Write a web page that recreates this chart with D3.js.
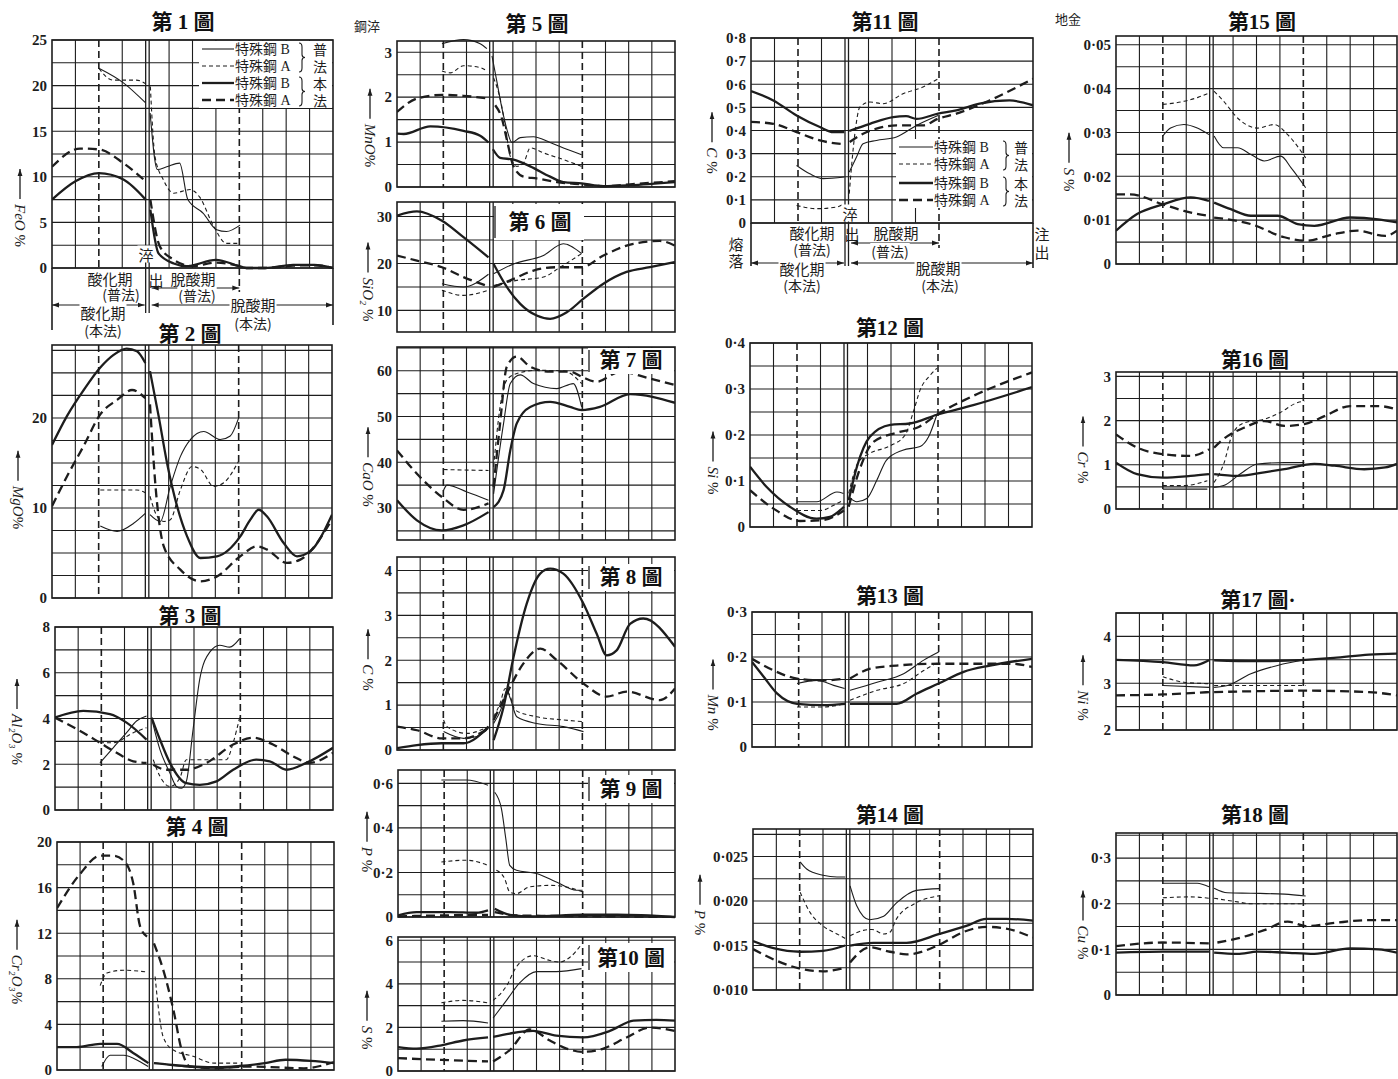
<!DOCTYPE html>
<html>
<head>
<meta charset="utf-8">
<script src="https://cdn.jsdelivr.net/npm/d3@7"></script>
<style>
  body { margin: 0; background: #fff; }
  svg { display: block; }
</style>
</head>
<body>
<svg id="chart" width="1398" height="1079"></svg>
<script>
// ---- data: x is the time axis in grid columns (0..12), y in percent ----
// each series is a list of segments (before / after tapping)
// thin = 普法 B, thinD = 普法 A, thick = 本法 B, thickD = 本法 A

const F1_THIN   = [[[2,21.9],[3.05,20.3],[4.0,18.1]], [[4.19,17],[4.5,10.8],[4.9,11.1],[5.45,11.5],[5.8,7.5],[6.46,6],[7.03,4.2],[7.45,4.0],[8.03,4.7]]];
const F1_THIN_D = [[[2,21.9],[2.6,20.6],[3.6,20.6],[4.0,20.2]], [[4.2,19.9],[4.4,12.2],[4.75,9.7],[5.2,8.2],[5.9,8.6],[6.3,7.8],[6.9,4.6],[7.45,2.7],[8.03,2.7]]];
const F1_THICK  = [[[0,7.5],[1,9.5],[2,10.4],[3.05,9.7],[4.0,7.5]], [[4.2,6.4],[4.55,1.6],[5.2,0.5],[5.75,0.2],[7,0.9],[8,0.2],[8.3,0],[9.1,0],[10.3,0.35],[11.2,0.35],[12,0]]];
const F1_THICK_D= [[[0,11.1],[1.2,13.1],[2,13.0],[3.05,11.5],[4.0,9.5]], [[4.2,7.5],[4.6,2.4],[5.2,0.9],[6,0.2],[7,0.6],[8,0.2],[8.3,0],[9.1,0],[10.3,0.25],[11.2,0.3],[12,0]]];

const F2_THIN   = [[[2.07,8.0],[2.79,7.4],[3.5,8.3],[4.0,9.4]], [[4.2,9.26],[4.64,8.5],[5.07,12.4],[5.5,15.7],[5.93,17.6],[6.5,18.5],[7.21,17.6],[7.64,18.0],[8.0,20.0]]];
const F2_THIN_D = [[[2.07,12.0],[3.64,12.0],[4.0,11.7]], [[4.2,11.3],[4.5,9.1],[4.79,8.5],[5.07,8.7],[5.5,12.0],[6.0,14.6],[6.36,14.3],[6.93,12.4],[7.36,12.8],[8.0,15.2]]];
const F2_THICK  = [[[0,17.0],[0.64,20.2],[1.36,23.1],[2.07,25.6],[2.64,27.0],[3.2,27.7],[3.64,27.4],[4.0,26.1]], [[4.2,25.2],[4.57,20.2],[4.93,15.0],[5.36,10.2],[5.79,6.85],[6.36,4.44],[7.07,4.63],[8.07,6.85],[8.5,8.7],[8.86,9.8],[9.2,9.1],[9.93,6.1],[10.5,4.63],[11.07,5.2],[12,9.26]]];
const F2_THICK_D= [[[0,10.2],[0.64,13.5],[1.36,16.9],[2.07,20.4],[2.79,22.0],[3.43,23.1],[4.0,22.2]], [[4.2,21.5],[4.45,12],[4.79,5.74],[5.5,3.15],[6.36,1.85],[7.07,2.4],[8.07,4.63],[8.79,5.74],[9.2,5.4],[10.07,3.9],[10.64,4.26],[12,8.7]]];

const F3_THIN   = [[[1.94,2.06],[2.51,2.72],[3.09,3.38],[3.52,3.89],[3.95,4.11]], [[4.2,3.89],[4.53,2.64],[4.96,1.62],[5.24,1.03],[5.46,0.95],[5.67,1.25],[5.96,3.52],[6.25,5.73],[6.68,6.9],[7.11,7.2],[7.54,7.12],[7.97,7.49]]];
const F3_THIN_D = [[[1.94,2.94],[2.51,2.94],[3.38,3.38],[3.95,3.6]], [[4.24,2.2],[4.53,1.47],[4.96,1.03],[5.39,1.4],[5.67,2.2],[6.54,2.2],[7.4,2.2],[7.69,2.94],[7.97,4.04]]];
const F3_THICK  = [[[0,4.04],[1.22,4.33],[2.37,4.19],[3.09,3.82],[3.95,3.08]], [[4.17,4.04],[4.53,3.08],[4.96,2.06],[5.67,1.17],[6.25,1.1],[6.97,1.25],[7.69,1.76],[8.69,2.2],[9.27,2.13],[9.99,1.76],[10.85,2.06],[12,2.72]]];
const F3_THICK_D= [[[0,4.04],[1.22,3.38],[1.94,2.94],[2.66,2.5],[3.38,2.13],[3.95,2.06]], [[4.24,1.98],[4.81,1.76],[5.67,1.76],[6.54,2.06],[7.69,2.86],[8.55,3.16],[9.41,2.86],[10.27,2.35],[10.99,2.06],[12,2.5]]];

const F4_THIN   = [[[1.94,0.3],[2.3,1.3],[2.88,1.3],[3.6,0.73],[3.95,0.3]], [[4.2,0.64],[5.5,0.3],[6.8,0.15],[7.9,0.23]]];
const F4_THIN_D = [[[1.87,7.4],[2.16,8.5],[2.88,8.75],[3.9,8.6]], [[4.25,8.2],[4.4,5.3],[4.6,2.9],[5.04,1.75],[5.9,1.2],[6.8,0.6],[7.9,0.6]]];
const F4_THICK  = [[[0,2.0],[0.86,2.0],[1.87,2.3],[2.6,2.3],[3.3,1.5],[3.96,0.6]], [[4.2,0.6],[5.0,0.44],[6.0,0.3],[7.0,0.25],[7.9,0.35],[9.0,0.6],[9.9,0.9],[11.0,0.8],[12,0.6]]];
const F4_THICK_D= [[[0,14.2],[1,17.2],[1.87,18.8],[2.45,18.8],[3.0,18.1],[3.3,16.4],[3.6,12.6],[3.9,11.7]], [[4.2,11.1],[4.6,8.8],[5.04,5.3],[5.4,1.75],[5.76,0.3],[6.9,0.15],[7.9,0.3],[8.5,0.3],[10.7,0.15],[12,0.7]]];

const F5_THIN   = [[[1.94,3.19],[2.87,3.28],[3.59,3.19],[3.88,3.08]], [[4.1,2.92],[4.31,2.35],[4.53,1.75],[4.74,1.29],[4.96,0.99],[5.32,1.1],[5.89,1.12],[6.61,0.99],[7.33,0.84],[7.97,0.72]]];
const F5_THIN_D = [[[1.94,2.58],[2.3,2.54],[2.87,2.7],[3.59,2.66],[3.88,2.58]], [[4.17,2.43],[4.45,1.97],[4.67,1.37],[4.89,0.68],[5.17,0.46],[5.46,0.53],[5.75,0.87],[6.32,0.76],[7.18,0.61],[7.97,0.46]]];
const F5_THICK  = [[[0,1.19],[0.29,1.18],[1.44,1.35],[2.87,1.25],[3.59,1.14],[3.95,0.99]], [[4.14,0.84],[4.45,0.65],[5.03,0.61],[5.75,0.46],[6.61,0.23],[7.18,0.11],[7.97,0.08],[8.91,0.02],[10.06,0.04],[12,0.11]]];
const F5_THICK_D= [[[0,1.67],[0.86,1.97],[1.94,2.05],[2.87,2.03],[3.95,1.97]], [[4.24,1.82],[4.53,1.52],[4.74,1.06],[5.03,0.46],[5.46,0.23],[6.03,0.19],[6.9,0.11],[7.97,0.06],[8.91,0.02],[10.06,0.06],[12,0.13]]];

const F6_THIN   = [[[1.94,15.7],[2.87,15.0],[3.95,17.7]], [[4.17,17.8],[5.03,19.9],[6.32,21.7],[7.18,24.2],[7.97,22.1]]];
const F6_THIN_D = [[[1.94,14.3],[2.87,13.2],[3.95,14.3]], [[4.17,15.3],[5.17,16.4],[6.32,17.1],[7.04,19.2],[7.97,22.1]]];
const F6_THICK  = [[[0,30.2],[0.86,31.1],[1.94,29.1],[2.87,25.6],[3.95,21.3]], [[4.17,19.9],[4.74,15.0],[5.32,11.4],[6.03,8.9],[6.61,8.2],[7.33,9.6],[8.05,12.5],[8.91,15.7],[9.91,18.2],[10.92,19.2],[12,20.3]]];
const F6_THICK_D= [[[0,21.7],[0.86,20.6],[1.94,19.2],[2.87,17.1],[3.95,15.1]], [[4.17,15.0],[4.89,16.4],[5.89,18.5],[6.9,19.2],[7.97,19.2],[8.91,21.7],[10.2,24.2],[11.35,24.8],[12,23.8]]];

const F7_THIN   = [[[2.01,33.9],[2.16,35.0],[3.02,33.5],[3.95,31.7]], [[4.17,33.1],[4.6,48.5],[4.89,57.2],[5.32,59.1],[5.89,57.2],[6.9,56.1],[7.61,57.2],[7.97,52.1]]];
const F7_THIN_D = [[[2.01,38.4],[3.95,38.2]], [[4.17,39.0],[4.45,52.1],[4.74,58.0],[5.17,59.4],[6.03,60.1],[7.18,60.0],[7.97,57.2]]];
const F7_THICK  = [[[0,31.7],[0.86,27.3],[1.94,25.1],[2.87,26.2],[3.95,29.1]], [[4.17,30.2],[4.6,33.9],[4.89,42.6],[5.17,48.5],[5.75,52.1],[6.61,53.2],[7.47,52.1],[7.97,51.4],[8.76,52.1],[10.06,54.9],[12,53.0]]];
const F7_THICK_D= [[[0,42.6],[0.86,37.5],[1.94,32.4],[2.87,29.6],[3.95,31.0]], [[4.17,34.6],[4.45,48.5],[4.74,60.9],[5.17,63.1],[5.75,60.9],[6.61,59.8],[7.47,59.8],[7.97,58.7],[8.62,57.6],[9.63,59.8],[10.92,58.3],[12,56.9]]];

const F8_THIN   = [[[2.01,0.41],[2.87,0.26],[3.45,0.3],[3.95,0.48]], [[4.17,0.59],[4.53,0.96],[4.74,1.33],[4.89,1.15],[5.17,0.74],[6.03,0.59],[7.18,0.52],[8.05,0.41]]];
const F8_THIN_D = [[[2.01,0.67],[2.16,0.52],[3.02,0.37],[3.95,0.52]], [[4.17,0.74],[4.45,1.04],[4.67,1.37],[4.89,1.19],[5.1,0.89],[6.03,0.74],[7.18,0.67],[8.05,0.63]]];
const F8_THICK  = [[[0,0.04],[0.86,0.11],[1.94,0.15],[2.87,0.15],[3.95,0.52]], [[4.17,0.22],[4.6,0.96],[5.03,2.07],[5.6,3.26],[6.18,3.93],[6.61,4.04],[7.18,3.93],[8.05,3.26],[8.62,2.59],[9.05,2.11],[9.48,2.22],[10.06,2.81],[10.63,2.93],[12,2.3]]];
const F8_THICK_D= [[[0,0.52],[0.86,0.44],[1.94,0.26],[2.87,0.26],[3.95,0.48]], [[4.17,0.67],[4.74,1.26],[5.46,1.93],[6.18,2.26],[6.9,2.0],[8.05,1.48],[9.05,1.19],[9.91,1.3],[11.35,1.11],[12,1.37]]];

const F9_THIN   = [[[1.88,0.615],[2.96,0.615],[3.9,0.592]], [[4.19,0.56],[4.48,0.487],[4.67,0.352],[4.84,0.232],[5.13,0.21],[6.0,0.195],[6.86,0.157],[7.73,0.12],[8.0,0.12]]];
const F9_THIN_D = [[[1.88,0.247],[2.96,0.255],[3.9,0.232]], [[4.26,0.21],[4.62,0.172],[4.84,0.112],[5.13,0.105],[5.7,0.135],[6.58,0.142],[7.3,0.135],[8.02,0.112]]];
const F9_THICK  = [[[0,0.007],[0.8,0.022],[2.24,0.022],[3.4,0.019],[3.9,0.03]], [[4.19,0.037],[4.84,0.01],[5.85,0.003],[8.02,0.01],[9.5,0.01],[12,0.0]]];
const F9_THICK_D= [[[0,0.003],[1.9,0.007],[3.9,0.01]], [[4.19,0.022],[5.13,0.007],[8.02,0.004],[12,0.0]]];

const F10_THIN   = [[[1.88,2.28],[2.82,2.31],[3.9,2.2]], [[4.12,2.43],[4.7,3.24],[5.27,4.04],[6.0,4.56],[6.86,4.56],[7.95,4.7]]];
const F10_THIN_D = [[[1.88,3.13],[2.82,3.24],[3.9,3.13]], [[4.12,3.24],[4.7,3.9],[5.13,4.78],[5.85,5.29],[6.58,5.07],[7.0,5.0],[7.45,5.22],[7.95,5.81]]];
const F10_THICK  = [[[0,1.1],[0.8,1.03],[1.88,1.18],[2.82,1.4],[3.9,1.54]], [[4.12,1.57],[4.84,1.72],[5.85,1.84],[6.86,1.62],[8.02,1.54],[9.18,1.84],[10.2,2.31],[11.2,2.35],[12,2.31]]];
const F10_THICK_D= [[[0,0.59],[1.88,0.51],[3.9,0.44]], [[4.12,0.44],[4.84,0.96],[5.7,1.91],[6.58,1.4],[7.3,1.03],[8.02,0.88],[8.9,1.03],[9.9,1.54],[10.9,1.99],[12,1.84]]];

const F11_THIN   = [[[1.94,0.249],[2.5,0.213],[3.07,0.192],[3.97,0.199]], [[4.18,0.22],[4.49,0.285],[4.77,0.343],[5.34,0.357],[6.19,0.372],[7.04,0.422],[7.96,0.465]]];
const F11_THIN_D = [[[1.94,0.076],[2.8,0.062],[3.64,0.069],[3.97,0.084]], [[4.18,0.127],[4.42,0.386],[4.63,0.501],[5.06,0.523],[5.62,0.516],[6.47,0.559],[7.32,0.588],[7.96,0.624]]];
const F11_THICK  = [[[0,0.571],[0.95,0.53],[1.94,0.465],[2.93,0.415],[3.5,0.393],[3.97,0.393]], [[4.18,0.398],[5.06,0.429],[6.05,0.458],[6.6,0.462],[7.04,0.45],[7.96,0.473],[8.74,0.487],[9.73,0.516],[11.0,0.53],[12,0.509]]];
const F11_THICK_D= [[[0,0.437],[0.95,0.429],[1.94,0.393],[2.93,0.357],[3.97,0.34]], [[4.2,0.35],[4.77,0.386],[5.34,0.408],[6.19,0.422],[7.32,0.422],[7.96,0.451],[8.74,0.473],[10.15,0.53],[12,0.624]]];

const F12_THIN   = [[[2,0.055],[2.84,0.055],[3.7,0.076],[3.98,0.073]], [[4.2,0.065],[4.55,0.055],[4.97,0.062],[5.4,0.102],[5.8,0.145],[6.5,0.167],[7.24,0.175],[7.6,0.196],[7.95,0.244]]];
const F12_THIN_D = [[[2,0.036],[3,0.036],[3.7,0.051],[3.98,0.058]], [[4.2,0.073],[4.6,0.14],[5.1,0.16],[5.9,0.175],[6.6,0.2],[6.95,0.25],[7.24,0.298],[7.67,0.33],[7.95,0.345]]];
const F12_THICK  = [[[0,0.131],[0.71,0.087],[1.7,0.044],[2.84,0.018],[3.4,0.022],[4.0,0.044]], [[4.2,0.058],[4.55,0.131],[5.1,0.196],[5.97,0.222],[6.8,0.225],[7.95,0.244],[9.5,0.265],[12,0.304]]];
const F12_THICK_D= [[[0,0.08],[1,0.04],[2.13,0.013],[3.1,0.015],[4.0,0.036]], [[4.2,0.044],[4.7,0.13],[5.25,0.185],[6.25,0.205],[7.2,0.218],[7.95,0.244],[9.5,0.285],[12,0.336]]];

const F13_THIN   = [[[1.93,0.141],[2.8,0.148],[3.5,0.137],[3.97,0.13]], [[4.2,0.126],[5.36,0.144],[6.5,0.163],[7.36,0.193],[8,0.211]]];
const F13_THIN_D = [[[1.93,0.089],[3.07,0.089],[3.97,0.096]], [[4.2,0.104],[5.36,0.126],[6.5,0.141],[7.36,0.17],[8,0.189]]];
const F13_THICK  = [[[0,0.189],[0.5,0.156],[1.07,0.119],[1.93,0.096],[3.07,0.093],[4.0,0.096]], [[4.2,0.096],[6.2,0.096],[7.07,0.119],[8,0.141],[9.07,0.167],[10.2,0.181],[12,0.196]]];
const F13_THICK_D= [[[0,0.196],[0.93,0.17],[1.93,0.152],[3.07,0.148],[4.0,0.152]], [[4.2,0.152],[5.07,0.174],[6.2,0.181],[8,0.185],[10.2,0.185],[11.1,0.185],[12,0.178]]];

const F14_THIN   = [[[2.02,0.0244],[2.3,0.0236],[3.0,0.0229],[3.6,0.0227],[3.95,0.0227]], [[4.16,0.0217],[4.44,0.0195],[5.0,0.0179],[5.6,0.0183],[6.15,0.0198],[7.0,0.0212],[8.0,0.0214]]];
const F14_THIN_D = [[[2.02,0.021],[2.45,0.0187],[3.0,0.0172],[3.6,0.0163],[3.95,0.0158]], [[4.16,0.0161],[4.73,0.0167],[5.1,0.0168],[5.6,0.0163],[5.87,0.0165],[6.15,0.018],[7.0,0.0198],[8.0,0.0206]]];
const F14_THICK  = [[[0,0.0155],[0.88,0.0147],[2.02,0.0143],[3.0,0.0144],[3.95,0.015]], [[4.16,0.015],[5.16,0.0153],[6.58,0.0153],[8,0.0163],[9.14,0.0172],[10,0.018],[10.85,0.018],[12,0.0178]]];
const F14_THICK_D= [[[0,0.0146],[1.0,0.0133],[2.02,0.0124],[3.0,0.0121],[3.95,0.0125]], [[4.16,0.0131],[5.0,0.0148],[5.87,0.0143],[6.58,0.014],[8,0.0151],[9.0,0.0165],[10,0.0171],[10.85,0.0169],[12,0.0159]]];

const F15_THIN   = [[[2,0.0292],[2.33,0.031],[2.9,0.0318],[3.47,0.031],[3.97,0.0295]], [[4.19,0.0292],[4.6,0.0265],[5.19,0.0265],[5.76,0.025],[6.33,0.0235],[7.04,0.0246],[7.47,0.022],[8.1,0.0174]]];
const F15_THIN_D = [[[2,0.0364],[2.9,0.0371],[3.5,0.038],[3.97,0.039]], [[4.19,0.0394],[4.6,0.0371],[5.19,0.0333],[6.04,0.031],[6.76,0.0318],[7.33,0.0295],[8.1,0.0242]]];
const F15_THICK  = [[[0,0.0076],[0.9,0.0114],[2,0.0136],[3.19,0.0152],[3.97,0.0144]], [[4.19,0.014],[4.9,0.0125],[5.76,0.011],[6.9,0.011],[7.76,0.0091],[8.47,0.0087],[10,0.0106],[11.2,0.0102],[12,0.0095]]];
const F15_THICK_D= [[[0,0.0159],[0.6,0.0159],[2,0.0136],[2.9,0.0121],[3.97,0.011]], [[4.19,0.0106],[5.76,0.0091],[7.19,0.0061],[8.1,0.0053],[9.3,0.0068],[10.3,0.0076],[11.5,0.0064],[12,0.0076]]];

const F16_THIN   = [[[2,0.45],[3.9,0.45]], [[4.19,0.49],[4.6,0.53],[5.3,0.79],[6.04,1.02],[7.19,1.05],[8.04,1.05]]];
const F16_THIN_D = [[[2,0.53],[2.9,0.53],[3.9,0.64]], [[4.19,0.6],[4.6,1.02],[4.97,1.69],[5.47,1.95],[6.33,2.03],[7.0,2.18],[7.76,2.41],[8.04,2.44]]];
const F16_THICK  = [[[0,1.05],[0.9,0.79],[2,0.71],[3.19,0.75],[3.97,0.79]], [[4.19,0.79],[5.19,0.75],[6.33,0.83],[7.19,0.9],[8.47,1.02],[9.33,0.98],[10.6,0.9],[11.5,0.94],[12,1.02]]];
const F16_THICK_D= [[[0,1.69],[0.9,1.39],[2,1.24],[3.19,1.2],[3.97,1.35]], [[4.19,1.39],[4.76,1.65],[5.47,1.84],[6.33,1.99],[7.2,1.88],[8.04,1.92],[8.9,2.1],[10,2.33],[11.2,2.33],[12,2.25]]];

const F17_THIN   = [[[2,2.95],[3.97,2.91]], [[4.19,2.91],[4.76,2.95],[5.76,3.2],[6.9,3.38],[8.1,3.5]]];
const F17_THIN_D = [[[2,3.14],[2.9,3.02],[3.97,2.99]], [[4.19,2.95],[6,2.95],[8.1,2.95]]];
const F17_THICK  = [[[0,3.5],[2,3.45],[3.33,3.38],[3.97,3.49]], [[4.19,3.49],[6,3.47],[8.1,3.5],[9.3,3.54],[10.8,3.61],[12,3.63]]];
const F17_THICK_D= [[[0,2.74],[2,2.76],[3.97,2.81]], [[4.19,2.81],[8.1,2.84],[10.8,2.81],[12,2.74]]];

const F18_THIN   = [[[2,0.245],[3.47,0.245],[3.97,0.237]], [[4.19,0.234],[4.76,0.224],[5.76,0.223],[7.2,0.221],[8.1,0.217]]];
const F18_THIN_D = [[[2,0.213],[3.19,0.215],[3.97,0.212]], [[4.19,0.212],[5.19,0.204],[5.76,0.2],[8.1,0.2]]];
const F18_THICK  = [[[0,0.093],[2,0.095],[3.97,0.095]], [[4.19,0.093],[5.19,0.09],[6.04,0.095],[7.19,0.093],[8.47,0.09],[10,0.102],[11.2,0.1],[12,0.093]]];
const F18_THICK_D= [[[0,0.107],[2,0.115],[3.97,0.113]], [[4.33,0.115],[5.19,0.124],[6.33,0.142],[7.33,0.161],[8.1,0.151],[9.33,0.158],[10.76,0.164],[12,0.164]]];

// y domains, grid steps and tick labels of each figure
const Y_DOMAINS = [[0,25],[0,28.1],[0,8],[0,20],[0,3.25],[5.4,33.1],[23,65.2],[0,4.3],[0,0.66],[0,6.15],
                   [0,0.8],[0,0.4],[0,0.3],[0.010,0.0281],[0,0.052],[0,3.1],[2,4.5],[0,0.355]];
const GRID_STEPS = [2.5,2.5,1,2,0.5,5,5,0.5,0.1,1,0.1,0.05,0.05,0.0025,0.005,0.5,0.5,0.05];
const TICKS = [
  [0,5,10,15,20,25], [0,10,20], [0,2,4,6,8], [0,4,8,12,16,20],
  [0,1,2,3], [10,20,30], [30,40,50,60], [0,1,2,3,4], [0,0.2,0.4,0.6], [0,2,4,6],
  [0,0.1,0.2,0.3,0.4,0.5,0.6,0.7,0.8], [0,0.1,0.2,0.3,0.4], [0,0.1,0.2,0.3], [0.010,0.015,0.020,0.025],
  [0,0.01,0.02,0.03,0.04,0.05], [0,1,2,3], [2,3,4], [0,0.1,0.2,0.3]
];
const TICK_DECIMALS = [0,0,0,0,0,0,0,0,1,0,1,1,1,3,2,0,0,1];
const TITLES = ['第 1 圖','第 2 圖','第 3 圖','第 4 圖','第 5 圖','第 6 圖','第 7 圖','第 8 圖','第 9 圖','第10 圖',
                '第11 圖','第12 圖','第13 圖','第14 圖','第15 圖','第16 圖','第17 圖·','第18 圖'];
const Y_LABELS = [['FeO',' %'],['MgO','%'],['Al₂O₃',' %'],['Cr₂O₃','%'],['MnO','%'],['SiO₂',' %'],['CaO',' %'],['C',' %'],['P',' %'],['S',' %'],
                  ['C',' %'],['Si',' %'],['Mn',' %'],['P',' %'],['S',' %'],['Cr',' %'],['Ni',' %'],['Cu',' %']];
const LEGEND_LABELS = ['特殊鋼 B','特殊鋼 A','特殊鋼 B','特殊鋼 A'];
const LEGEND_SIDE = ['普','法','本','法'];

const SERIES = [
  [F1_THIN,F1_THIN_D,F1_THICK,F1_THICK_D],[F2_THIN,F2_THIN_D,F2_THICK,F2_THICK_D],
  [F3_THIN,F3_THIN_D,F3_THICK,F3_THICK_D],[F4_THIN,F4_THIN_D,F4_THICK,F4_THICK_D],
  [F5_THIN,F5_THIN_D,F5_THICK,F5_THICK_D],[F6_THIN,F6_THIN_D,F6_THICK,F6_THICK_D],
  [F7_THIN,F7_THIN_D,F7_THICK,F7_THICK_D],[F8_THIN,F8_THIN_D,F8_THICK,F8_THICK_D],
  [F9_THIN,F9_THIN_D,F9_THICK,F9_THICK_D],[F10_THIN,F10_THIN_D,F10_THICK,F10_THICK_D],
  [F11_THIN,F11_THIN_D,F11_THICK,F11_THICK_D],[F12_THIN,F12_THIN_D,F12_THICK,F12_THICK_D],
  [F13_THIN,F13_THIN_D,F13_THICK,F13_THICK_D],[F14_THIN,F14_THIN_D,F14_THICK,F14_THICK_D],
  [F15_THIN,F15_THIN_D,F15_THICK,F15_THICK_D],[F16_THIN,F16_THIN_D,F16_THICK,F16_THICK_D],
  [F17_THIN,F17_THIN_D,F17_THICK,F17_THICK_D],[F18_THIN,F18_THIN_D,F18_THICK,F18_THICK_D]
];

// ---- layout ----
// plot boxes [left, right, top, bottom]
const BOX = [
  [52,333,40,268],[52,332,345,598],[55,333,627,810],[57,334,842,1070],
  [397,675,41,187],[397,675,202,332],[397,675,347,540],[397,675,557,750],[398,675,770,917],[398,675,937,1071],
  [751,1033,38,223],[750,1032,343,527],[752,1032,612,747],[753,1033,829,990],
  [1116,1397,36,264],[1116,1397,372,509],[1116,1397,613,730],[1116,1397,833,995]
];
const TITLE_POS = [[183,22],[190,334],[190,616],[197,827],[537,24],[540,222],[631,360],[631,577],[631,789],[631,958],
                   [885,22],[890,328],[890,596],[890,815],[1262,22],[1255,360],[1258,600],[1255,815]];
const INSET = {5:[494,584,204,240], 6:[588,674,348,374], 7:[588,674,564,591], 8:[588,674,775,803], 9:[588,674,943,972]};
const LABEL_POS = [[20,208],[18,490],[17,722],[17,962],[370,128],[368,282],[368,467],[368,660],[367,842],[367,1020],
                   [712,143],[713,463],[713,695],[700,905],[1069,162],[1083,450],[1083,688],[1083,925]];

const INK = '#1d1d1d';
const SERIF = '"Liberation Serif","DejaVu Serif",serif';
const TITLE_FONT = '"Liberation Serif","Noto Sans CJK JP",serif';
const CJK = '"Noto Sans CJK JP",sans-serif';
const STYLES = [
  {w: 1.1, dash: null}, {w: 1.1, dash: '4,3'}, {w: 2.3, dash: null}, {w: 2.3, dash: '9,5'}
];

const svg = d3.select('#chart');
const defs = svg.append('defs');
defs.append('marker').attr('id', 'arr')
  .attr('viewBox', '0 0 10 10').attr('refX', 10).attr('refY', 5)
  .attr('markerWidth', 7).attr('markerHeight', 7).attr('orient', 'auto-start-reverse')
  .attr('markerUnits', 'userSpaceOnUse')
  .append('path').attr('d', 'M0,1.5L10,5L0,8.5z').attr('fill', INK);

function fmt(v, dec) {
  if (v === 0) return '0';
  return dec ? v.toFixed(dec).replace('.', '·') : String(v);
}

const scales = [];

BOX.forEach((b, i) => {
  const [x0, x1, y0, y1] = b;
  const x = d3.scaleLinear().domain([0, 12]).range([x0, x1]);
  const y = d3.scaleLinear().domain(Y_DOMAINS[i]).range([y1, y0]);
  scales.push({x, y});
  const g = svg.append('g');

  defs.append('clipPath').attr('id', 'clip' + i)
    .append('rect').attr('x', x0).attr('y', y0 - 2).attr('width', x1 - x0).attr('height', y1 - y0 + 4);

  // horizontal grid
  const [lo, hi] = Y_DOMAINS[i];
  const st = GRID_STEPS[i];
  const hs = d3.range(Math.ceil(lo / st - 1e-6) * st, hi + 1e-9, st);
  g.selectAll('line.h').data(hs).join('line')
    .attr('x1', x0).attr('x2', x1)
    .attr('y1', d => y(d)).attr('y2', d => y(d))
    .attr('stroke', INK).attr('stroke-width', 1.1);

  // vertical grid (fig 11 has no columns after the end of the 普法 run)
  const vs = d3.range(1, 12).filter(u => u !== 2 && u !== 4 && u !== 8 && !(i === 10 && u > 8));
  g.selectAll('line.v').data(vs).join('line')
    .attr('x1', d => x(d)).attr('x2', d => x(d))
    .attr('y1', y0).attr('y2', y1)
    .attr('stroke', INK).attr('stroke-width', 1.1);

  // period boundaries
  [2, 8].forEach(u => g.append('line')
    .attr('x1', x(u)).attr('x2', x(u)).attr('y1', y0).attr('y2', y1)
    .attr('stroke', INK).attr('stroke-width', 1.6).attr('stroke-dasharray', '7,4'));
  // tapping: double line
  [0, 3.5].forEach(off => g.append('line')
    .attr('x1', x(4) + off).attr('x2', x(4) + off).attr('y1', y0).attr('y2', y1)
    .attr('stroke', INK).attr('stroke-width', 1.3));

  g.append('rect').attr('x', x0).attr('y', y0).attr('width', x1 - x0).attr('height', y1 - y0)
    .attr('fill', 'none').attr('stroke', INK).attr('stroke-width', 1.6);

  // y axis
  const axis = d3.axisLeft(y).tickValues(TICKS[i]).tickSize(0).tickPadding(5)
    .tickFormat(d => fmt(d, TICK_DECIMALS[i]));
  g.append('g').attr('transform', `translate(${x0},0)`).call(axis)
    .call(a => a.select('.domain').remove())
    .selectAll('text')
    .attr('font-family', SERIF).attr('font-weight', 'bold').attr('font-size', 15).attr('fill', INK);

  // curves
  const line = d3.line().x(d => x(d[0])).y(d => y(d[1])).curve(d3.curveMonotoneX);
  const cg = g.append('g').attr('clip-path', `url(#clip${i})`);
  SERIES[i].forEach((segs, k) => {
    segs.forEach(seg => {
      cg.append('path').attr('d', line(seg))
        .attr('fill', 'none').attr('stroke', INK)
        .attr('stroke-width', STYLES[k].w)
        .attr('stroke-dasharray', STYLES[k].dash)
        .attr('stroke-linejoin', 'round');
    });
  });

  // title
  const [tx, ty] = TITLE_POS[i];
  if (INSET[i]) {
    const [ix0, ix1, iy0, iy1] = INSET[i];
    g.append('rect').attr('x', ix0).attr('y', iy0).attr('width', ix1 - ix0).attr('height', iy1 - iy0).attr('fill', '#fff');
    g.append('line').attr('x1', ix0 + 1).attr('x2', ix0 + 1).attr('y1', iy0 + 2).attr('y2', iy1 - 2)
      .attr('stroke', INK).attr('stroke-width', 1.3);
  }
  svg.append('text').attr('x', tx).attr('y', ty).attr('text-anchor', 'middle').attr('dominant-baseline', 'central')
    .attr('font-family', TITLE_FONT).attr('font-weight', 'bold').attr('font-size', 21).attr('fill', '#111')
    .text(TITLES[i]);

  // y label, rotated to read downwards, with an arrow pointing up above it
  const [lx, ly] = LABEL_POS[i];
  const lg = svg.append('g').attr('transform', `translate(${lx},${ly}) rotate(90)`);
  const lt = lg.append('text').attr('dominant-baseline', 'central')
    .attr('font-family', SERIF).attr('font-size', 15).attr('fill', INK);
  lt.append('tspan').attr('font-style', 'italic').text(Y_LABELS[i][0]);
  lt.append('tspan').text(Y_LABELS[i][1]);
  const tw = lt.node().getComputedTextLength();
  const AL = 30;
  const start = -(AL + 5 + tw) / 2;
  lt.attr('x', start + AL + 5);
  lg.append('line').attr('x1', start + AL).attr('x2', start).attr('y1', 0).attr('y2', 0)
    .attr('stroke', INK).attr('stroke-width', 1.3).attr('marker-end', 'url(#arr)');
});

// ---- helpers for annotations ----
function label(x, y, s, bg, size) {
  const t = svg.append('text').attr('x', x).attr('y', y).attr('text-anchor', 'middle').attr('dominant-baseline', 'central')
    .attr('font-family', CJK).attr('font-size', size || 14).attr('fill', INK).text(s);
  if (bg) {
    const bb = t.node().getBBox();
    svg.insert('rect', () => t.node()).attr('x', bb.x - 1).attr('y', bb.y + 2).attr('width', bb.width + 2).attr('height', bb.height - 4).attr('fill', '#fff');
  }
  return t;
}
function seg(xa, ya, xb, yb, opts) {
  const l = svg.append('line').attr('x1', xa).attr('y1', ya).attr('x2', xb).attr('y2', yb)
    .attr('stroke', INK).attr('stroke-width', (opts && opts.w) || 1.2);
  if (opts && opts.dash) l.attr('stroke-dasharray', opts.dash);
  if (opts && opts.a0) l.attr('marker-start', 'url(#arr)');
  if (opts && opts.a1) l.attr('marker-end', 'url(#arr)');
  return l;
}
function brace(bx, yt, yb) {
  const m = (yt + yb) / 2;
  svg.append('path')
    .attr('d', `M${bx - 3},${yt} Q${bx},${yt} ${bx},${yt + 4} L${bx},${m - 3} Q${bx},${m} ${bx + 3},${m} Q${bx},${m} ${bx},${m + 3} L${bx},${yb - 4} Q${bx},${yb} ${bx - 3},${yb}`)
    .attr('fill', 'none').attr('stroke', INK).attr('stroke-width', 1.1);
}
function legend(box, rows, lx0, lx1, braceX, sideX) {
  svg.append('rect').attr('x', box[0]).attr('y', box[1]).attr('width', box[2] - box[0]).attr('height', box[3] - box[1]).attr('fill', '#fff');
  rows.forEach((ry, k) => {
    svg.append('line').attr('x1', lx0).attr('x2', lx1).attr('y1', ry).attr('y2', ry)
      .attr('stroke', INK).attr('stroke-width', STYLES[k].w).attr('stroke-dasharray', STYLES[k].dash);
    svg.append('text').attr('x', lx1 + 1).attr('y', ry).attr('dominant-baseline', 'central')
      .attr('font-family', TITLE_FONT).attr('font-size', 14).attr('fill', INK)
      .text(LEGEND_LABELS[k]);
    label(sideX, ry, LEGEND_SIDE[k], false, 14);
  });
  brace(braceX, rows[0] - 6, rows[1] + 6);
  brace(braceX, rows[2] - 6, rows[3] + 6);
}

// ---- figure 1 period annotations ----
{
  const {x, y} = scales[0];
  const base = y(0);
  seg(x(0), base, x(0), 330, {w: 1.6});
  seg(x(12), base, x(12), 325, {w: 1.6});
  seg(x(4), base, x(4), 313, {w: 1.3});
  seg(x(4) + 3.5, base, x(4) + 3.5, 313, {w: 1.3});
  seg(x(8), base, x(8), 292, {w: 1.6, dash: '7,4'});
  seg(x(4) + 6, 288, x(8), 288, {a0: true, a1: true});
  seg(x(0), 305, x(4) - 1, 305, {a0: true, a1: true});
  seg(x(4) + 6, 305, x(12), 305, {a0: true, a1: true});
  label(146, 254, '淬', true, 15);
  label(156, 279, '出', false, 15);
  label(110, 278, '酸化期', false, 15);
  label(121, 294, '(普法)', false, 14);
  label(193, 278, '脫酸期', false, 15);
  label(197, 295, '(普法)', true, 14);
  label(103, 312, '酸化期', true, 15);
  label(103, 330, '(本法)', false, 14);
  label(253, 304, '脫酸期', true, 15);
  label(253, 323, '(本法)', false, 14);
  legend([199, 41, 332, 108], [49, 66, 83, 100], 202, 234, 302, 320);
}

// ---- figure 11 period annotations ----
{
  const {x, y} = scales[10];
  const base = y(0);
  seg(x(0), base, x(0), 266, {w: 1.6});
  seg(x(12), base, x(12), 268, {w: 1.6});
  seg(x(4), base, x(4), 266, {w: 1.3});
  seg(x(4) + 3.5, base, x(4) + 3.5, 266, {w: 1.3});
  seg(x(8), base, x(8), 248, {w: 1.6, dash: '7,4'});
  seg(x(4) + 6, 243, x(8), 243, {a0: true, a1: true});
  seg(x(0), 263, x(4) - 1, 263, {a0: true, a1: true});
  seg(x(4) + 6, 263, x(12), 263, {a0: true, a1: true});
  label(850, 213, '淬', true, 15);
  label(852, 233, '出', false, 15);
  label(736, 243, '熔', false, 15);
  label(736, 260, '落', false, 15);
  label(1042, 233, '注', false, 15);
  label(1042, 251, '出', false, 15);
  label(812, 232, '酸化期', false, 15);
  label(812, 249, '(普法)', false, 14);
  label(896, 232, '脫酸期', false, 15);
  label(890, 251, '(普法)', true, 14);
  label(802, 268, '酸化期', true, 15);
  label(802, 285, '(本法)', false, 14);
  label(938, 267, '脫酸期', true, 15);
  label(940, 285, '(本法)', false, 14);
  legend([896, 139, 1032, 208], [147, 164, 183, 200], 899, 933, 1006, 1021);
}

// corner notes
label(367, 25, '鋼淬', false, 13);
label(1068, 18, '地金', false, 13);
</script>
</body>
</html>
